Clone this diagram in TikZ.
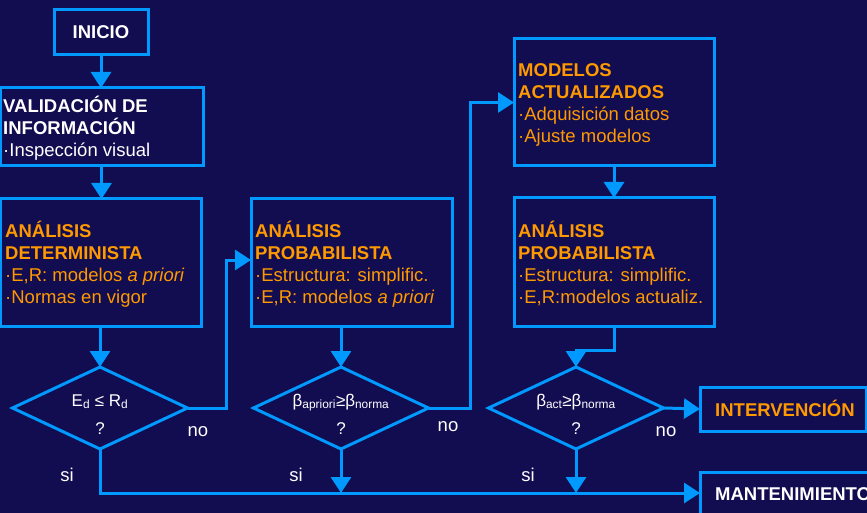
\documentclass[tikz,border=0pt]{standalone}
\usepackage{fontspec}
\setmainfont{Liberation Sans}
\usetikzlibrary{arrows.meta,shapes.geometric}
\definecolor{bg}{RGB}{18,12,80}
\definecolor{ln}{RGB}{0,153,255}
\definecolor{org}{RGB}{255,153,0}
\begin{document}
\begin{tikzpicture}[x=1pt,y=-1pt,
  box/.style={draw=ln, line width=3pt, rectangle, inner sep=0pt, outer sep=0pt},
  dia/.style={draw=ln, line width=3pt, diamond, inner sep=0pt, outer sep=0pt, minimum width=175pt, minimum height=82pt},
  arr/.style={draw=ln, line width=3pt, -{Triangle[width=20pt,length=16pt]}},
  txt/.style={align=left, inner sep=0pt, font=\fontsize{18.5}{22}\selectfont, anchor=base west},
  dtxt/.style={align=center, inner sep=0pt, text=white, font=\fontsize{17}{28}\selectfont, anchor=base},
  lbl/.style={text=white, inner sep=0pt, font=\fontsize{18.5}{22}\selectfont, anchor=base}]
\useasboundingbox (0,0) rectangle (867,513);
\clip (0,0) rectangle (867,513);
\fill[bg] (0,0) rectangle (867,513);

% boxes
\node[box, minimum width=94pt, minimum height=45pt, text=white, font=\fontsize{18.5}{22}\selectfont\bfseries] (ini) at (101,32.5) {INICIO};
\node[box, minimum width=203pt, minimum height=78pt] (val) at (101.5,127) {};
\node[box, minimum width=201pt, minimum height=127pt] (det) at (100.5,262.5) {};
\node[box, minimum width=201pt, minimum height=127pt] (p1) at (351.5,262.5) {};
\node[box, minimum width=200pt, minimum height=127pt] (mod) at (614,102.5) {};
\node[box, minimum width=200pt, minimum height=128pt] (p2) at (614,262) {};
\node[box, minimum width=166pt, minimum height=44pt] (int) at (783,409) {};
\node[box, minimum width=180pt, minimum height=42pt] (mant) at (790,493) {};

% diamonds
\node[dia] (d1) at (100,408) {};
\node[dia] (d2) at (341,408) {};
\node[dia] (d3) at (576,408) {};

% box texts (anchored at the baseline of the last line)
\node[txt, text=white] (tval) at (3,157) {\textbf{VALIDACIÓN DE}\\\textbf{INFORMACIÓN}\\·Inspección visual};
\node[txt, text=org] (tdet) at (5,303) {\textbf{ANÁLISIS}\\\textbf{DETERMINISTA}\\·E,R: modelos \textit{a priori}\\·Normas en vigor};
\node[txt, text=org] (tp1) at (255,303) {\textbf{ANÁLISIS}\\\textbf{PROBABILISTA}\\·Estructura: simplific.\\·E,R: modelos \textit{a priori}};
\node[txt, text=org] (tmod) at (518,143) {\textbf{MODELOS}\\\textbf{ACTUALIZADOS}\\·Adquisición datos\\·Ajuste modelos};
\node[txt, text=org] (tp2) at (518,303) {\textbf{ANÁLISIS}\\\textbf{PROBABILISTA}\\·Estructura: simplific.\\·E,R:modelos actualiz.};
\node[txt, text=org] (tint) at (715,416) {\textbf{INTERVENCIÓN}};
\node[txt, text=white] (tmant) at (715,500) {\textbf{MANTENIMIENTO}};

% diamond texts
\node[dtxt] (q1) at (100,434) {E\textsubscript{d} ≤ R\textsubscript{d}\\?};
\node[dtxt] (q2) at (341,434) {β\textsubscript{apriori}≥β\textsubscript{norma}\\?};
\node[dtxt] (q3) at (576,434) {β\textsubscript{act}≥β\textsubscript{norma}\\?};

% labels
\node[lbl] (no1) at (198,436) {no};
\node[lbl] (si1) at (67,481) {si};
\node[lbl] (no2) at (448,431) {no};
\node[lbl] (si2) at (296,481) {si};
\node[lbl] (no3) at (666,436) {no};
\node[lbl] (si3) at (528,481) {si};

% helper coordinates
\coordinate (k1) at (226,260);
\coordinate (k2) at (470,102.5);

% connectors
\draw[arr] (ini.south) -- (ini.south |- val.north);
\draw[arr] (val.south) -- (val.south |- det.north);
\draw[arr] (d1.north |- det.south) -- (d1.north);
\draw[arr] (d1.east) -| (k1) -- (k1 -| p1.west);
\draw[arr] (d2.north |- p1.south) -- (d2.north);
\draw[arr] (d2.east) -| (k2) -- (mod.west);
\draw[arr] (mod.south) -- (p2.north);
\draw[arr] (p2.south) -- ++(0,24) -| (d3.north);
\draw[arr] (d3.east) -- (int.west);
\draw[arr] (d1.south) |- (mant.west);
\draw[arr] (d2.south) -- (d2.south |- mant.west);
\draw[arr] (d3.south) -- (d3.south |- mant.west);
\end{tikzpicture}
\end{document}
